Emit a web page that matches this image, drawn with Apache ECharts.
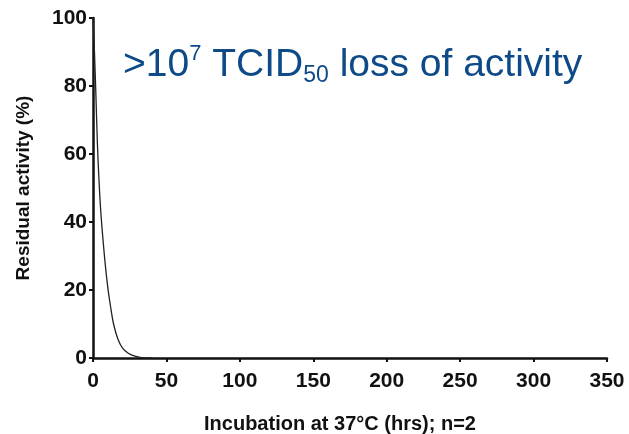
<!DOCTYPE html>
<html>
<head>
<meta charset="utf-8">
<script src="https://cdn.jsdelivr.net/npm/echarts@6/dist/echarts.min.js"></script>
<style>
  html, body { margin: 0; padding: 0; background: #fff; }
  #main { width: 629px; height: 434px; }
</style>
</head>
<body>
<div id="main"></div>
<script>
// hours of incubation and residual activity (%)
var hours = [0, 1, 2, 3, 4, 5, 6, 8, 10, 12, 14, 17, 20, 24, 28, 33, 40];
var activity = [100, 90, 77, 63, 53, 45, 39, 29, 21, 15, 10, 5.5, 3, 1.4, 0.6, 0.1, 0];
var xTicks = [0, 50, 100, 150, 200, 250, 300, 350];
var yTicks = [0, 20, 40, 60, 80, 100];

var points = hours.map(function (h, i) { return [h, activity[i]]; });
var myChart = echarts.init(document.getElementById('main'));

var labelFont = {color: '#111', fontWeight: 'bold', fontSize: 21, fontFamily: 'Liberation Sans, Arial'};
var blue = '#0d4a87';

myChart.setOption({
    animation: false,
    grid: {left: 93, right: 22, top: 18, bottom: 76, outerBoundsMode: 'none'},
    xAxis: {
        type: 'value',
        min: xTicks[0],
        max: xTicks[xTicks.length - 1],
        interval: 50,
        name: 'Incubation at 37°C (hrs); n=2',
        nameLocation: 'middle',
        nameGap: 56,
        nameTextStyle: {color: '#111', fontWeight: 'bold', fontSize: 20, fontFamily: 'Liberation Sans, Arial', padding: [0, 20, 0, 0]},
        axisLine: {lineStyle: {color: '#111', width: 2.5}},
        axisTick: {length: 4, lineStyle: {color: '#111', width: 2}},
        axisLabel: Object.assign({margin: 13}, labelFont),
        splitLine: {show: false}
    },
    yAxis: {
        type: 'value',
        min: yTicks[0],
        max: yTicks[yTicks.length - 1],
        interval: 20,
        name: 'Residual activity (%)',
        nameLocation: 'middle',
        nameGap: 60,
        nameTextStyle: {color: '#111', fontWeight: 'bold', fontSize: 19, fontFamily: 'Liberation Sans, Arial'},
        axisLine: {show: true, lineStyle: {color: '#111', width: 2.5}},
        axisTick: {show: true, length: 4, lineStyle: {color: '#111', width: 2}},
        axisLabel: Object.assign({margin: 6}, labelFont),
        splitLine: {show: false}
    },
    graphic: [{
        type: 'text',
        left: 123,
        top: 43,
        style: {
            text: '{a|>10}{sup|7}{a| TCID}{sub|50}{a| loss of activity}',
            rich: {
                a: {fontSize: 39, lineHeight: 44, fill: blue, color: blue, fontFamily: 'Liberation Sans, Arial', verticalAlign: 'middle'},
                sup: {fontSize: 22, lineHeight: 24, fill: blue, color: blue, fontFamily: 'Liberation Sans, Arial', verticalAlign: 'top'},
                sub: {fontSize: 23, lineHeight: 22, fill: blue, color: blue, fontFamily: 'Liberation Sans, Arial', verticalAlign: 'bottom'}
            }
        }
    }],
    series: [{
        type: 'line',
        data: points,
        smooth: 0.3,
        showSymbol: false,
        lineStyle: {color: '#222', width: 1.3}
    }]
});
</script>
</body>
</html>
